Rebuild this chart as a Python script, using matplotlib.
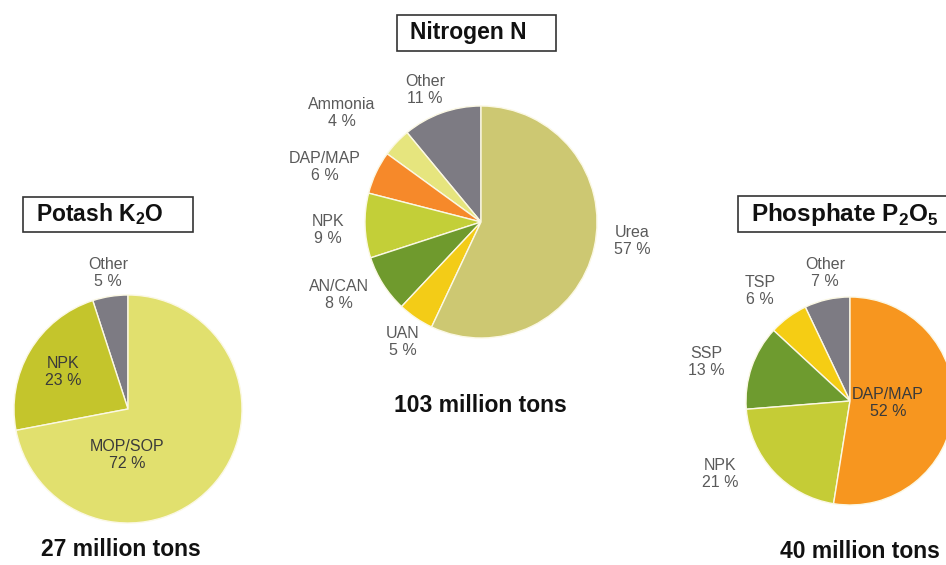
import matplotlib
matplotlib.use("Agg")
import matplotlib.pyplot as plt
from matplotlib.patches import Rectangle

plt.rcParams['font.family'] = ['Liberation Sans', 'DejaVu Sans']
plt.rcParams['mathtext.fontset'] = 'custom'
plt.rcParams['mathtext.rm'] = 'Liberation Sans:bold'
plt.rcParams['mathtext.bf'] = 'Liberation Sans:bold'

# data (percent shares, counter-clockwise from 12 o'clock)
potash_labels = ["Other", "NPK", "MOP/SOP"]
potash_values = [5, 23, 72]
potash_total = "27 million tons"

nitrogen_labels = ["Other", "Ammonia", "DAP/MAP", "NPK", "AN/CAN", "UAN", "Urea"]
nitrogen_values = [11, 4, 6, 9, 8, 5, 57]
nitrogen_total = "103 million tons"

phosphate_labels = ["Other", "TSP", "SSP", "NPK", "DAP/MAP"]
phosphate_values = [7, 6, 13, 21, 52]
phosphate_total = "40 million tons"

GREY = "#7d7b83"
potash_colors = [GREY, "#c4c52c", "#e1e06e"]
nitrogen_colors = [GREY, "#e6e57e", "#f6892a", "#c3cf38", "#6f9a2d", "#f3cc17", "#cdc872"]
phosphate_colors = [GREY, "#f5cd14", "#6e9b2f", "#c5cc36", "#f7961f"]

W, H = 946, 565
fig = plt.figure(figsize=(W / 100, H / 100), dpi=100)
ax = fig.add_axes([0, 0, 1, 1])


def up(y):
    # pixel row -> data y (y axis points up)
    return H - y


def draw_pie(values, colors, labels, cx, cy, r, label_pos, inside, total, total_pos,
             title, box, title_size=16.5):
    ax.pie(values, colors=colors, startangle=90, counterclock=True,
           center=(cx, up(cy)), radius=r,
           wedgeprops=dict(edgecolor="#fbf8e4", linewidth=1.0))
    for lab, val, (lx, ly), ins in zip(labels, values, label_pos, inside):
        ax.text(lx, up(ly), f"{lab}\n{val} %", ha="center", va="center",
                fontsize=11.5, linespacing=1.1,
                color="#3a3a3a" if ins else "#5a5a5a")
    ax.text(total_pos[0], up(total_pos[1]), total, ha="center", va="center",
            fontsize=16.5, fontweight="bold", color="#111111")
    bx, by, bw, bh = box
    ax.add_patch(Rectangle((bx, up(by + bh)), bw, bh, facecolor="white",
                           edgecolor="#333333", linewidth=1.2, zorder=3))
    ax.text(bx + 13, up(by + bh / 2), title, ha="left", va="center",
            fontsize=title_size, fontweight="bold", color="#111111", zorder=4)


draw_pie(potash_values, potash_colors, potash_labels, 128, 409, 114,
         [(108, 273), (63, 372), (127, 455)], [False, True, True],
         potash_total, (121, 550), r"Potash K$_\mathbf{2}$O", (23, 197, 170, 35))

draw_pie(nitrogen_values, nitrogen_colors, nitrogen_labels, 481, 222, 116,
         [(425, 90), (342, 113), (325, 167), (328, 230), (339, 295), (403, 342),
          (632, 241)],
         [False] * 7, nitrogen_total, (480, 405), "Nitrogen N", (397, 15, 159, 36))

draw_pie(phosphate_values, phosphate_colors, phosphate_labels, 850, 401, 104,
         [(825, 273), (760, 291), (706, 362), (720, 474), (888, 403)],
         [False, False, False, False, True],
         phosphate_total, (860, 552), r"Phosphate P$_\mathbf{2}$O$_\mathbf{5}$",
         (738, 196, 220, 36), title_size=17.5)

ax.set_xlim(0, W)
ax.set_ylim(0, H)
ax.set_aspect("equal")
ax.axis("off")

fig.savefig("out.png", dpi=100, facecolor="white")
